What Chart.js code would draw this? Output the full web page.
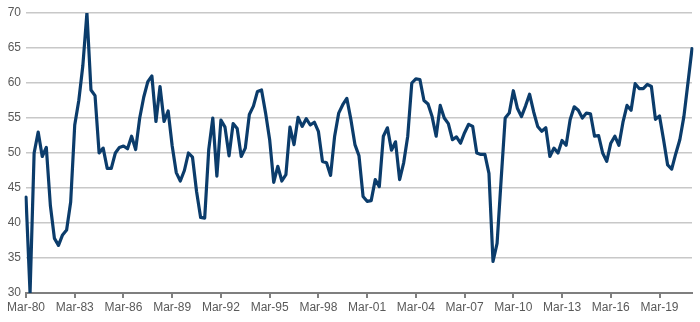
<!DOCTYPE html>
<html>
<head>
<meta charset="utf-8">
<script src="https://cdn.jsdelivr.net/npm/chart.js@4/dist/chart.umd.min.js"></script>
<style>
  html, body { margin: 0; padding: 0; background: #fff; }
  #wrap { width: 700px; height: 322px; }
</style>
</head>
<body>
<div id="wrap"><canvas id="wykres" width="700" height="322"></canvas></div>
<script>
// quarters, first year and last year of the series
const kwartaly = ['Mar', 'Jun', 'Sep', 'Dec'];
const rokStart = 1980;
const rokKoniec = 2021;

// values, quarterly Mar-80 .. Mar-21
const wartosci = [
  43.7, 30, 50, 53, 49.5, 50.8, 42.5, 37.8, 36.8, 38.3, 39, 43,
  54, 57.5, 62.5, 70, 59, 58.2, 50, 50.7, 47.8, 47.8, 50, 50.8,
  51, 50.6, 52.4, 50.5, 55, 58, 60.2, 61, 54.5, 59.5, 54.5, 56,
  51, 47.2, 46, 47.5, 50, 49.4, 44.5, 40.8, 40.7, 50.5, 55, 46.7,
  54.7, 53.7, 49.6, 54.2, 53.5, 49.5, 50.7, 55.5, 56.7, 58.8, 59, 55.7,
  51.9, 45.8, 48.1, 46, 46.9, 53.7, 51.2, 55.1, 53.8, 54.9, 54, 54.4,
  53.1, 48.8, 48.6, 46.8, 52.4, 55.7, 56.9, 57.8, 54.8, 51.2, 49.6, 43.8,
  43.1, 43.2, 46.2, 45.2, 52.4, 53.6, 50.4, 51.6, 46.2, 48.6, 52.4, 60,
  60.6, 60.5, 57.5, 57, 55.2, 52.4, 56.8, 55, 54.2, 51.9, 52.3, 51.4,
  52.9, 54.1, 53.8, 50, 49.8, 49.8, 47.1, 34.5, 37.1, 46.2, 55, 55.7,
  58.9, 56.4, 55.2, 56.7, 58.4, 55.9, 53.8, 53.1, 53.6, 49.5, 50.7, 50,
  51.8, 51.1, 54.8, 56.6, 56.1, 55, 55.7, 55.6, 52.4, 52.5, 50, 48.8,
  51.4, 52.4, 51.1, 54.4, 56.8, 56.1, 59.9, 59.2, 59.2, 59.8, 59.5, 54.8,
  55.3, 51.9, 48.3, 47.7, 49.9, 51.9, 55.2, 60, 64.9
];

// y axis range
const osY = { min: 30, max: 70, krok: 5 };
// every n-th quarter gets a label
const coIle = 12;

const etykiety = [];
for (let rok = rokStart; rok <= rokKoniec; rok++) {
  for (const k of kwartaly) {
    if (etykiety.length < wartosci.length) {
      etykiety.push(k + '-' + String(rok).slice(2));
    }
  }
}

const ctx = document.getElementById('wykres').getContext('2d');
new Chart(ctx, {
  type: 'line',
  data: {
    labels: etykiety,
    datasets: [{
      data: wartosci,
      borderColor: '#0b3c6b',
      borderWidth: 3.2,
      borderJoinStyle: 'round',
      borderCapStyle: 'round',
      pointRadius: 0,
      tension: 0,
      fill: false
    }]
  },
  options: {
    responsive: false,
    animation: false,
    layout: { padding: { top: 13, right: 8, left: 0, bottom: 0 } },
    plugins: { legend: { display: false }, tooltip: { enabled: false } },
    scales: {
      x: {
        type: 'category',
        offset: false,
        afterFit: s => { s.height = 29; },
        border: { display: true, color: '#7f7f7f', width: 2 },
        grid: {
          drawOnChartArea: false,
          drawTicks: true,
          tickLength: 5,
          lineWidth: 2,
          color: c => (c.index % coIle === 0 ? '#7f7f7f' : 'rgba(0,0,0,0)')
        },
        ticks: {
          autoSkip: false,
          maxRotation: 0,
          minRotation: 0,
          padding: 2,
          color: '#595959',
          font: { family: 'Liberation Sans, Arial, sans-serif', size: 12 },
          callback: function (v, i) { return i % coIle === 0 ? this.getLabelForValue(v) : ''; }
        }
      },
      y: {
        min: osY.min,
        max: osY.max,
        afterFit: s => { s.width = 26; },
        border: { display: false },
        grid: { color: '#c8c8c8', lineWidth: 1.5, drawTicks: false },
        ticks: {
          stepSize: osY.krok,
          padding: 5,
          color: '#595959',
          font: { family: 'Liberation Sans, Arial, sans-serif', size: 12 }
        }
      }
    }
  }
});
</script>
</body>
</html>
